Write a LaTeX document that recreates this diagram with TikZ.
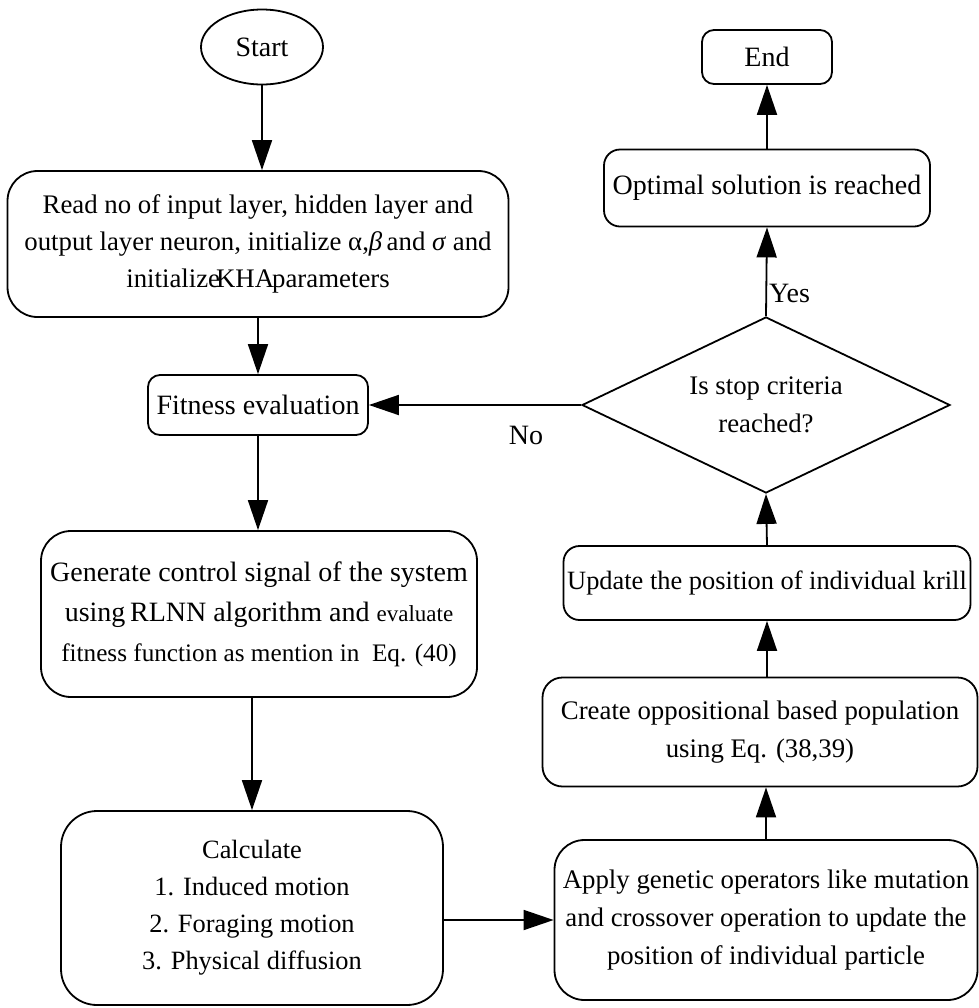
\documentclass[tikz,border=0pt]{standalone}
\usepackage{fontspec}
\setmainfont{Liberation Serif}
\usetikzlibrary{shapes.geometric,arrows.meta,positioning}
\tikzset{
  process/.style={draw,line width=0.9pt,rounded corners=#1,align=center,inner sep=1pt},
  process/.default=8pt,
  flow/.style={-{Triangle[length=15pt,width=10pt]},line width=0.9pt},
  decision/.style={diamond,draw,line width=0.9pt,aspect=2,
    align=center,inner sep=0pt}
}

\begin{document}
\begin{tikzpicture}[x=0.5pt,y=-0.5pt,
  font=\fontsize{14}{18.5}\selectfont,
  terminal/.style={ellipse,draw,line width=0.9pt,inner sep=0pt},
  answer/.style={inner sep=1pt}
]
  \useasboundingbox (0,0) rectangle (979,1008);
  % left column
  \node[terminal,minimum width=61pt,minimum height=37.5pt] (start) at (262,47) {Start};
  \node[process=15pt,minimum width=250.5pt,minimum height=73pt,
    font=\fontsize{13.4}{18.5}\selectfont] (read) at (258,244)
    {Read no of input layer, hidden layer and\\
     output layer neuron, initialize α,\textit{β}\,and \textit{σ} and\\
     initialize\kern-2pt KHA\kern-1pt parameters};
  \node[process=6pt,minimum width=110pt,minimum height=30pt] (fitness) at (258,405)
    {Fitness evaluation};
  \node[process=15pt,minimum width=218pt,minimum height=83pt,
    font=\fontsize{14}{20}\selectfont] (generate) at (259,614)
    {Generate control signal of the system\\
     using\,RLNN algorithm and {\fontsize{11.5}{20}\selectfont evaluate}\\
     {\fontsize{12.6}{20}\selectfont fitness function as mention in~ Eq. (40)}};
  \node[process=18pt,minimum width=191pt,minimum height=97pt,
    font=\fontsize{13.2}{18.5}\selectfont] (calculate) at (252,908)
    {Calculate\\1. Induced motion\\2. Foraging motion\\3. Physical diffusion};
  % right column
  \node[process=15pt,minimum width=211.5pt,minimum height=80pt,
    font=\fontsize{13.4}{19}\selectfont] (genetic) at (766,920)
    {Apply genetic operators like mutation\\
     and crossover operation to update the\\
     position of individual particle};
  \node[process=10pt,minimum width=217.5pt,minimum height=54.5pt,
    font=\fontsize{13.4}{19}\selectfont] (opposition) at (760,732)
    {Create oppositional based population\\using Eq. (38,39)};
  \node[process=8pt,minimum width=203.5pt,minimum height=37pt,
    font=\fontsize{13.2}{18.5}\selectfont] (update) at (767,583)
    {Update the position of individual krill};
  \node[decision,minimum width=184pt,minimum height=88pt,
    font=\fontsize{13.4}{19}\selectfont] (stop) at (766,405)
    {Is stop criteria\\reached?};
  \node[process=8pt,minimum width=163pt,minimum height=38.5pt] (optimal) at (767,188)
    {Optimal solution is reached};
  \node[process=6pt,minimum width=65pt,minimum height=27pt] (finish) at (767,57) {End};
  % connectors
  \draw[flow] (start.south) -- (start.south |- read.north);
  \draw[flow] (read.south) -- (fitness.north);
  \draw[flow] (fitness.south) -- (generate.north -| fitness.south);
  \draw[flow] (calculate.north |- generate.south) -- (calculate.north);
  \draw[flow] (genetic.west -| calculate.east) -- (genetic.west);
  \draw[flow] (genetic.north) -- (genetic.north |- opposition.south);
  \draw[flow] (update.south |- opposition.north) -- (update.south);
  \draw[flow] (update.north) -- (stop.south);
  \draw[flow] (stop.north) -- node[answer,pos=0.25,right] {Yes} (optimal.south);
  \draw[flow] (optimal.north) -- (finish.south);
  \draw[flow] (stop.west) -- node[answer,pos=0.26,below=9pt] {No} (fitness.east);
\end{tikzpicture}
\end{document}
